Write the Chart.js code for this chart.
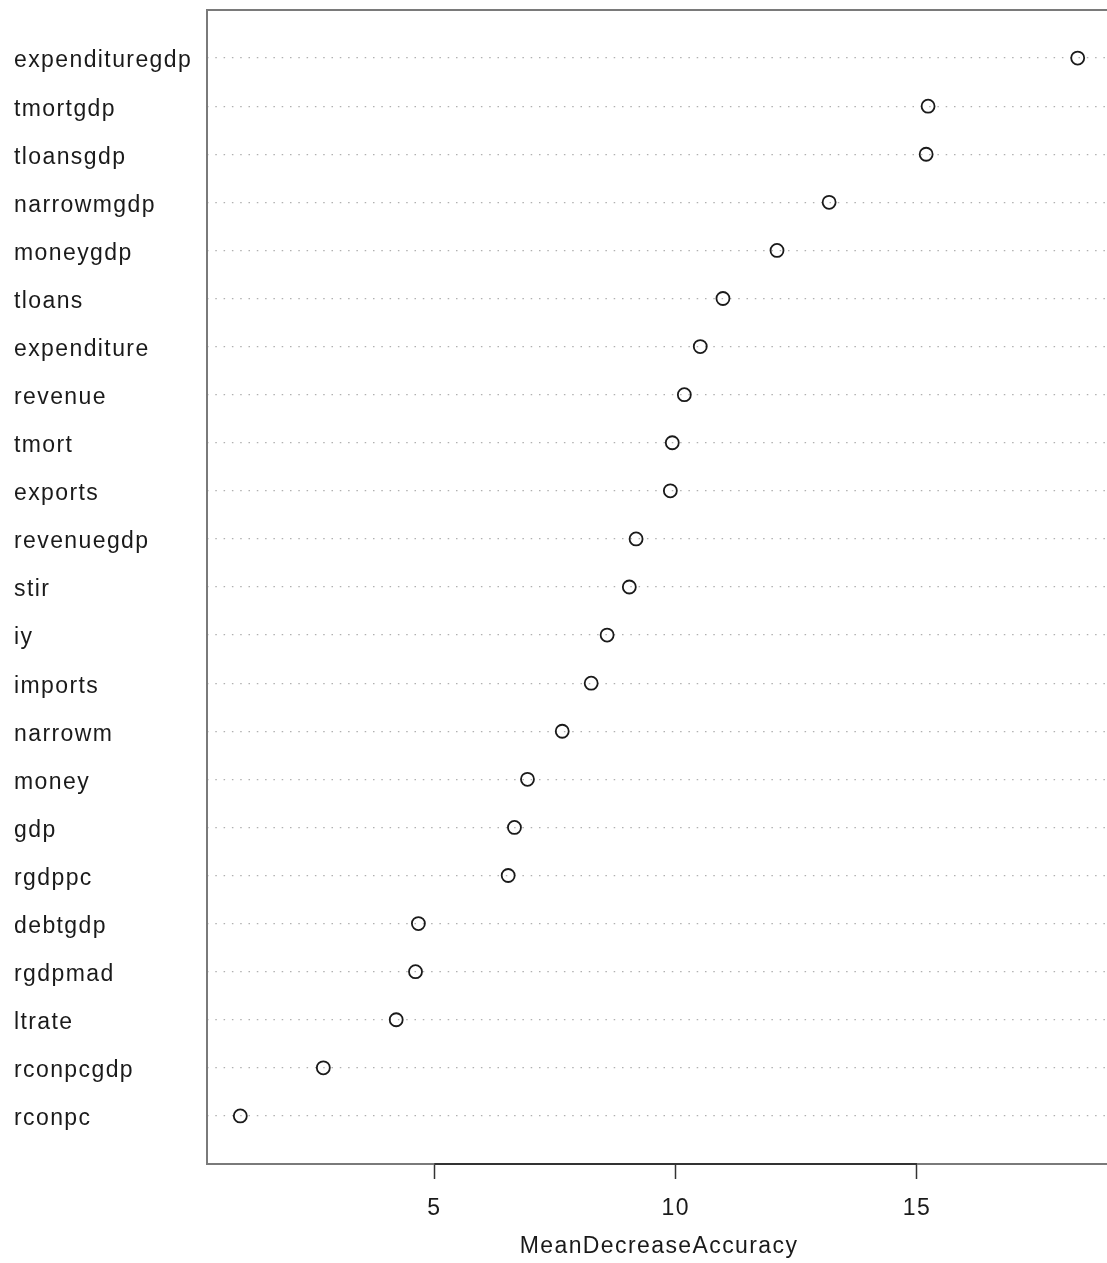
<!DOCTYPE html>
<html>
<head>
<meta charset="utf-8">
<title>MeanDecreaseAccuracy</title>
<script src="https://cdn.jsdelivr.net/npm/chart.js@4.4.1/dist/chart.umd.min.js"></script>
<style>
  html, body { margin: 0; padding: 0; background: #fff; overflow: hidden; }
  #wrap { width: 1107px; height: 1263px; overflow: hidden; }
  canvas { display: block; }
</style>
</head>
<body>
<div id="wrap"><canvas id="chart" width="1120" height="1263"></canvas></div>
<script>
// variable names, top to bottom
const variables = [
    'expendituregdp', 'tmortgdp', 'tloansgdp', 'narrowmgdp', 'moneygdp',
    'tloans', 'expenditure', 'revenue', 'tmort', 'exports',
    'revenuegdp', 'stir', 'iy', 'imports', 'narrowm',
    'money', 'gdp', 'rgdppc', 'debtgdp', 'rgdpmad',
    'ltrate', 'rconpcgdp', 'rconpc'
];

// MeanDecreaseAccuracy, same order
const meanDecreaseAccuracy = [
    18.33, 15.23, 15.19, 13.18, 12.10,
    10.98, 10.51, 10.18, 9.93, 9.89,
    9.18, 9.04, 8.58, 8.25, 7.65,
    6.93, 6.66, 6.53, 4.67, 4.61,
    4.21, 2.70, 0.98
];

const xTicks = [5, 10, 15];
const xTitle = 'MeanDecreaseAccuracy';

const n = variables.length;
const points = variables.map((name, i) => ({ x: meanDecreaseAccuracy[i], y: n - i }));

const FONT = { family: "'Liberation Sans', Arial, sans-serif", size: 23 };

// the R plot uses a slightly wider text; mimic it with letter spacing
const spacing = {
    id: 'spacing',
    beforeLayout(chart) { chart.ctx.letterSpacing = '1.4px'; },
    beforeDraw(chart) { chart.ctx.letterSpacing = '1.4px'; }
};

// plot box plus the x axis line between first and last tick
const frame = {
    id: 'frame',
    afterDatasetsDraw(chart) {
        const { ctx, chartArea: a, scales } = chart;
        ctx.save();
        ctx.strokeStyle = '#7a7a7a';
        ctx.lineWidth = 2;
        ctx.strokeRect(a.left, a.top, a.right - a.left, a.bottom - a.top);
        ctx.strokeStyle = '#333';
        ctx.beginPath();
        ctx.moveTo(scales.x.getPixelForValue(xTicks[0]), a.bottom);
        ctx.lineTo(scales.x.getPixelForValue(xTicks[xTicks.length - 1]), a.bottom);
        ctx.stroke();
        ctx.restore();
    }
};

new Chart(document.getElementById('chart'), {
    type: 'scatter',
    data: {
        datasets: [{
            data: points,
            pointStyle: 'circle',
            pointRadius: 6.5,
            pointHoverRadius: 6.5,
            borderWidth: 1.8,
            borderColor: '#1a1a1a',
            backgroundColor: 'rgba(0,0,0,0)'
        }]
    },
    options: {
        responsive: false,
        animation: false,
        layout: { padding: { top: 10, right: 9, left: 14, bottom: 0 } },
        plugins: {
            legend: { display: false },
            tooltip: { enabled: false }
        },
        scales: {
            x: {
                type: 'linear',
                min: 0.29,
                max: 19.02,
                afterBuildTicks: (scale) => {
                    scale.ticks = xTicks.map(v => ({ value: v }));
                },
                afterFit: (scale) => {
                    scale.height = 99;
                    scale.paddingLeft = 0;
                    scale.paddingRight = 0;
                },
                border: { display: false },
                grid: {
                    drawOnChartArea: false,
                    drawTicks: true,
                    tickLength: 15,
                    tickColor: '#333',
                    tickWidth: 1.5
                },
                ticks: {
                    color: '#1a1a1a',
                    font: FONT,
                    padding: 16,
                    maxRotation: 0
                },
                title: {
                    display: true,
                    text: xTitle,
                    color: '#1a1a1a',
                    font: FONT,
                    padding: { top: 0, bottom: 3 }
                }
            },
            y: {
                type: 'linear',
                min: 0,
                max: n + 1,
                afterBuildTicks: (scale) => {
                    const t = [];
                    for (let v = 0; v <= n + 1; v++) t.push({ value: v });
                    scale.ticks = t;
                },
                afterFit: (scale) => {
                    scale.width = 193;
                    scale.paddingTop = 0;
                    scale.paddingBottom = 0;
                },
                border: { display: false, dash: [1.5, 6.8] },
                grid: {
                    drawTicks: false,
                    lineWidth: 1.2,
                    color: (c) => (c.tick && c.tick.value > 0 && c.tick.value <= n) ? '#b0b0b0' : 'rgba(0,0,0,0)'
                },
                ticks: {
                    color: '#1a1a1a',
                    font: FONT,
                    crossAlign: 'far',
                    padding: 0,
                    labelOffset: 3,
                    autoSkip: false,
                    callback: (v) => (v >= 1 && v <= n) ? variables[n - v] : ''
                }
            }
        }
    },
    plugins: [spacing, frame]
});
</script>
</body>
</html>
